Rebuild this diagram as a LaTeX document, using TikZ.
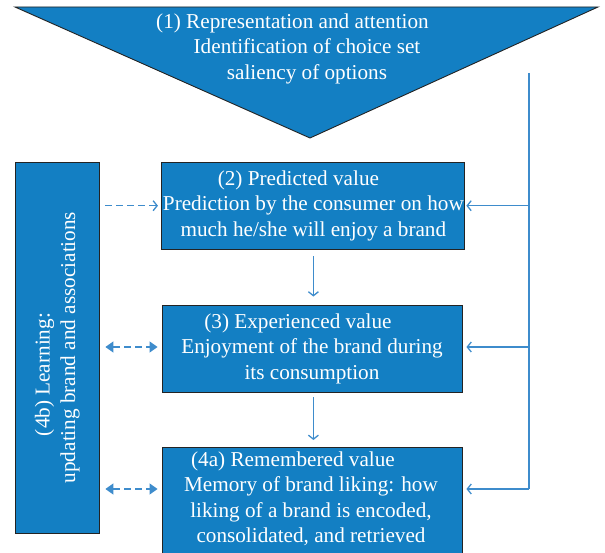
\documentclass[tikz,border=0pt]{standalone}
\usepackage{fontspec}
\setmainfont{Liberation Serif}
\usetikzlibrary{arrows.meta}
\definecolor{boxblue}{RGB}{19,127,195}
\definecolor{lineblue}{RGB}{62,140,204}
\definecolor{edgegray}{RGB}{35,35,35}
\tikzset{
  boxfont/.style={font=\fontsize{21.2}{25.5}\selectfont},
  stagebox/.style={draw=edgegray, line width=0.9pt, fill=boxblue, text=white,
    align=center, inner sep=0pt, boxfont},
  flow/.style={draw=lineblue, line width=1.3pt, -{Straight Barb[length=4pt,width=10pt]}},
  learnopen/.style={draw=lineblue, line width=1.3pt, dash pattern=on 7pt off 4pt, -{Straight Barb[length=4pt,width=10pt]}},
  learnboth/.style={draw=lineblue, line width=1.3pt, dash pattern=on 7pt off 4pt, {Triangle[length=8pt,width=11pt]}-{Triangle[length=8pt,width=11pt]}}
}
\begin{document}
\begin{tikzpicture}[x=1pt,y=1pt]
\useasboundingbox (0,0) rectangle (605,552);
% triangle (1)
\draw[draw=edgegray, line width=0.9pt, fill=boxblue] (15,545) -- (598,545) -- (310,414) -- cycle;
\node[text=white, align=center, boxfont] (rep) at (307,503.5)
  {(1) Representation and attention\hspace*{29pt}\\
   Identification of choice set\\
   saliency of options};
% boxes
\node[stagebox, minimum width=303pt, minimum height=87pt] (pred) at (313.4,346.5)
  {(2) Predicted value\hspace*{30pt}\\ Prediction by the consumer on how\\ much he/she will enjoy a brand};
\node[stagebox, minimum width=300pt, minimum height=87pt] (exp) at (312,203.5)
  {(3) Experienced value\hspace*{28pt}\\ Enjoyment of the brand during\\ its consumption};
\node[stagebox, minimum width=300pt, minimum height=120pt, anchor=north] (rem) at (312,105)
  {};
\node[text=white, align=center, boxfont] (remtext) at (311,53.3)
  {(4a) Remembered value\hspace*{36pt}\\ Memory of brand liking: how\\ liking of a brand is encoded,\\ consolidated, and retrieved};
\node[stagebox, minimum width=371pt, minimum height=83.3pt, rotate=90] (learn) at (57.3,204.5)
  {(4b) Learning:\hspace*{54pt}\\ updating brand and associations};
% feedback line on the right
\coordinate (fbtop) at (529,479);
\coordinate (fb2) at (529,346.3);
\coordinate (fb3) at (529,205);
\coordinate (fb4) at (529,63);
\draw[draw=lineblue, line width=1.3pt] (fbtop) -- (fb4);
\draw[flow, shorten >=1pt] (fb2) -- (fb2 -| pred.east);
\draw[flow, shorten >=4pt] (fb3) -- (fb3 -| exp.east);
\draw[flow, shorten >=4pt] (fb4) -- (fb4 -| rem.east);
% downward flow
\draw[flow, shorten <=7pt, shorten >=8pt] (pred.south) -- (pred.south |- exp.north);
\draw[flow, shorten <=5pt, shorten >=7pt] (pred.south |- exp.south) -- (pred.south |- rem.north);
% learning links
\draw[learnopen, shorten <=6pt, shorten >=3.5pt] (learn.south |- fb2) -- (fb2 -| pred.west);
\draw[learnboth, shorten <=6pt, shorten >=4pt] (learn.south |- fb3) -- (fb3 -| exp.west);
\draw[learnboth, shorten <=6pt, shorten >=4pt] (learn.south |- fb4) -- (fb4 -| rem.west);
\end{tikzpicture}
\end{document}
